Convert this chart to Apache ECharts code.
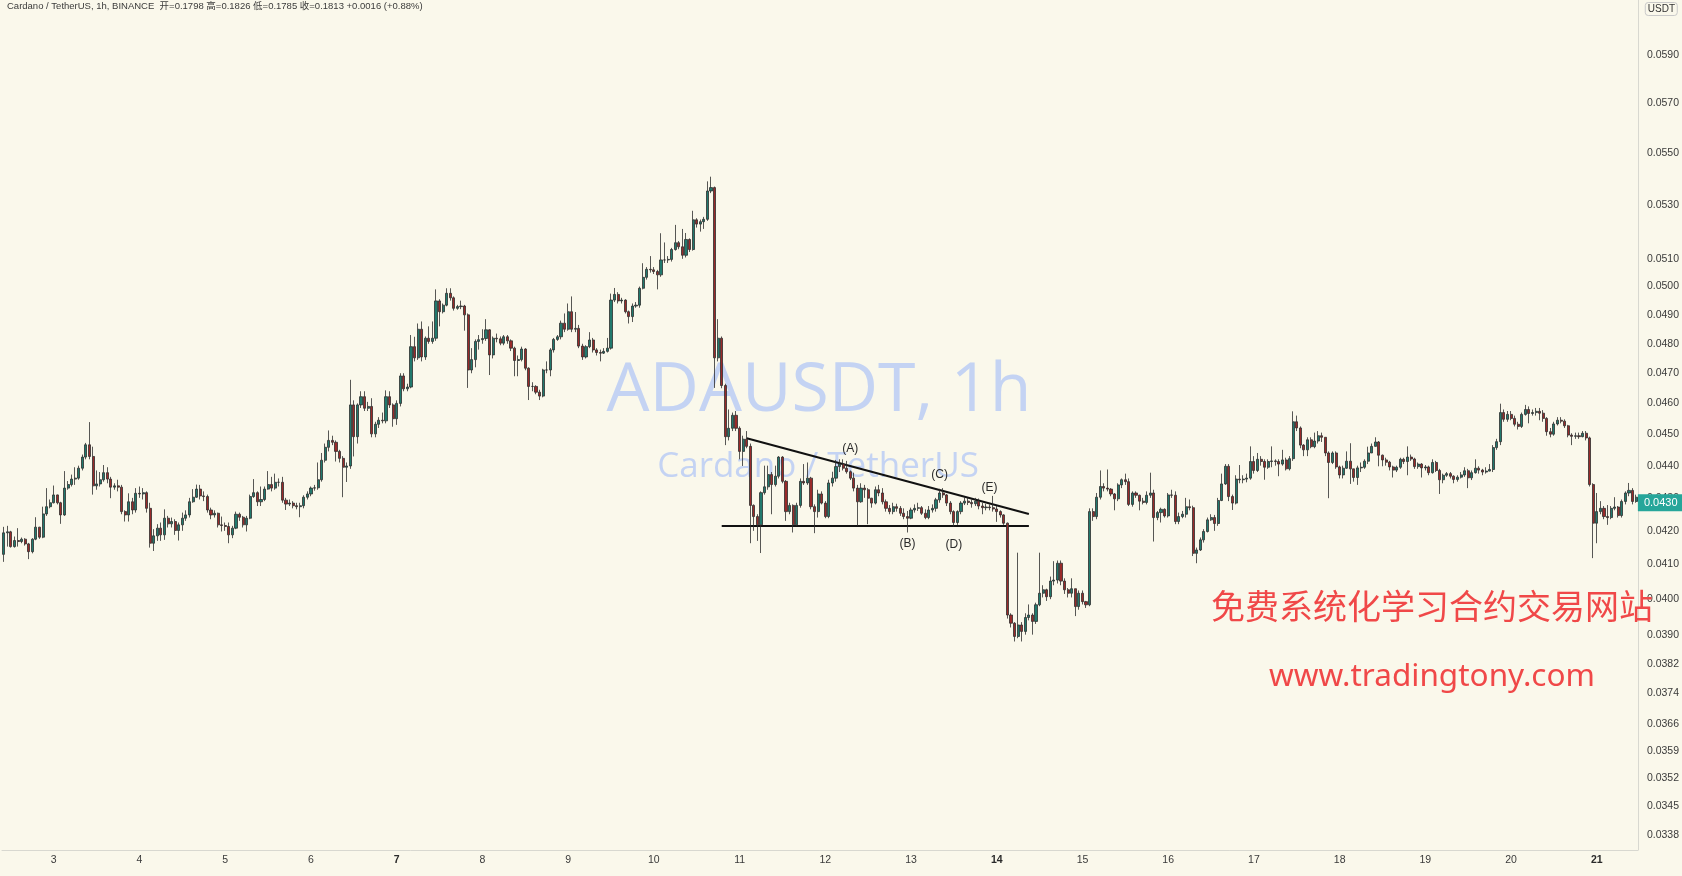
<!DOCTYPE html>
<html>
<head>
<meta charset="utf-8">
<script src="https://cdn.jsdelivr.net/npm/echarts@6.0.0/dist/echarts.min.js"></script>
<style>
html,body{margin:0;padding:0;background:#faf8eb;}
#chart{width:1682px;height:876px;}
</style>
</head>
<body>
<div id="chart"></div>
<script>
// ---- DATA (ADAUSDT 1h) ----
const startDay = 2, startHour = 10;           // first candle: day 2, 10:00
const firstOpen = 0.04130;
const closes = [
0.04194,0.04197,0.04153,0.04171,0.04168,0.04175,0.04161,0.04138,0.04175,0.04211,0.04181,0.04251,0.04273,0.04285,
0.04309,0.04285,0.04248,0.04330,0.04341,0.04358,0.04361,0.04392,0.04427,0.04466,0.04429,0.04337,0.04343,0.04356,0.04378,0.04358,0.04333,0.04337,0.04333,0.04258,0.04248,0.04288,0.04263,0.04314,
0.04312,0.04316,0.04268,0.04163,0.04185,0.04208,0.04188,0.04238,0.04221,0.04228,0.04201,0.04218,0.04238,0.04248,0.04288,0.04302,0.04327,0.04306,0.04304,0.04263,0.04248,0.04253,0.04218,0.04216,
0.04213,0.04188,0.04208,0.04250,0.04241,0.04218,0.04238,0.04304,0.04316,0.04288,0.04295,0.04327,0.04341,0.04330,0.04348,0.04348,0.04293,0.04281,0.04284,0.04276,0.04273,0.04276,0.04302,0.04312,
0.04330,0.04331,0.04356,0.04417,0.04458,0.04480,0.04474,0.04445,0.04423,0.04395,0.04399,0.04595,0.04492,0.04595,0.04622,0.04584,0.04590,0.04501,0.04532,0.04545,0.04543,0.04622,0.04595,0.04550,
0.04600,0.04691,0.04648,0.04654,0.04790,0.04752,0.04850,0.04755,0.04819,0.04808,0.04819,0.04949,0.04911,0.04934,0.04976,0.04960,0.04923,0.04929,0.04931,0.04900,0.04711,0.04746,0.04808,0.04814,
0.04818,0.04848,0.04762,0.04819,0.04817,0.04802,0.04824,0.04810,0.04785,0.04743,0.04746,0.04782,0.04717,0.04656,0.04656,0.04637,0.04624,0.04711,0.04711,0.04779,0.04815,0.04824,0.04871,0.04850,
0.04911,0.04850,0.04853,0.04792,0.04755,0.04790,0.04813,0.04779,0.04770,0.04768,0.04774,0.04785,0.04952,0.04972,0.04949,0.04952,0.04911,0.04894,0.04931,0.04934,0.04994,0.05033,0.05062,0.05060,
0.05054,0.05042,0.05096,0.05096,0.05098,0.05134,0.05159,0.05144,0.05113,0.05171,0.05134,0.05244,0.05228,0.05237,0.05246,0.05353,0.05366,0.04752,0.04819,0.04659,0.04492,0.04519,0.04561,0.04519,
0.04445,0.04484,0.04461,0.04277,0.04243,0.04218,0.04316,0.04334,0.04372,0.04341,0.04367,0.04427,0.04351,0.04258,0.04277,0.04218,0.04277,0.04351,0.04346,0.04361,0.04273,0.04258,0.04312,0.04284,
0.04243,0.04346,0.04361,0.04397,0.04405,0.04392,0.04381,0.04361,0.04330,0.04288,0.04330,0.04325,0.04299,0.04284,0.04325,0.04315,0.04288,0.04268,0.04258,0.04273,0.04268,0.04253,0.04243,0.04238,
0.04263,0.04268,0.04270,0.04253,0.04240,0.04263,0.04268,0.04294,0.04315,0.04309,0.04284,0.04258,0.04225,0.04258,0.04284,0.04290,0.04286,0.04282,0.04290,0.04275,0.04270,0.04272,0.04270,0.04266,
0.04258,0.04248,0.04223,0.03955,0.03932,0.03895,0.03927,0.03909,0.03948,0.03955,0.03937,0.03984,0.04017,0.04027,0.04007,0.04052,0.04055,0.04104,0.04052,0.04027,0.04017,0.04030,0.03979,0.04017,
0.03993,0.03984,0.04258,0.04243,0.04302,0.04335,0.04330,0.04327,0.04312,0.04297,0.04340,0.04356,0.04350,0.04280,0.04315,0.04308,0.04290,0.04286,0.04308,0.04315,0.04240,0.04255,0.04265,0.04245,
0.04309,0.04308,0.04228,0.04243,0.04250,0.04273,0.04270,0.04133,0.04143,0.04173,0.04198,0.04233,0.04240,0.04222,0.04292,0.04343,0.04398,0.04304,0.04284,0.04358,0.04356,0.04358,0.04361,0.04413,
0.04385,0.04420,0.04413,0.04395,0.04413,0.04415,0.04413,0.04405,0.04418,0.04390,0.04422,0.04540,0.04520,0.04465,0.04450,0.04482,0.04460,0.04478,0.04495,0.04490,0.04440,0.04410,0.04440,0.04396,
0.04371,0.04392,0.04414,0.04390,0.04363,0.04393,0.04395,0.04414,0.04440,0.04461,0.04475,0.04433,0.04418,0.04411,0.04396,0.04386,0.04395,0.04420,0.04413,0.04427,0.04421,0.04397,0.04405,0.04393,
0.04396,0.04378,0.04410,0.04385,0.04356,0.04370,0.04375,0.04367,0.04357,0.04364,0.04371,0.04384,0.04362,0.04378,0.04392,0.04386,0.04380,0.04383,0.04388,0.04457,0.04476,0.04570,0.04548,0.04564,
0.04551,0.04532,0.04525,0.04564,0.04580,0.04567,0.04570,0.04574,0.04568,0.04551,0.04508,0.04500,0.04533,0.04545,0.04542,0.04527,0.04497,0.04493,0.04495,0.04492,0.04503,0.04488,0.04341,0.04223,
0.04258,0.04268,0.04243,0.04240,0.04268,0.04272,0.04246,0.04289,0.04315,0.04323,0.04289,0.04302
];
const highs = [
0.04212,0.04215,0.04200,0.04183,0.04208,0.04180,0.04178,0.04164,0.04178,0.04241,0.04212,0.04273,0.04330,0.04295,
0.04338,0.04310,0.04288,0.04383,0.04352,0.04372,0.04395,0.04400,0.04435,0.04472,0.04539,0.04460,0.04385,0.04380,0.04402,0.04395,0.04365,0.04345,0.04356,0.04340,0.04262,0.04314,0.04300,0.04330,
0.04335,0.04330,0.04320,0.04285,0.04205,0.04220,0.04225,0.04265,0.04245,0.04240,0.04235,0.04225,0.04255,0.04262,0.04300,0.04327,0.04341,0.04340,0.04320,0.04310,0.04270,0.04262,0.04255,0.04243,
0.04225,0.04225,0.04215,0.04258,0.04255,0.04245,0.04245,0.04310,0.04358,0.04320,0.04335,0.04335,0.04383,0.04365,0.04375,0.04360,0.04365,0.04300,0.04295,0.04290,0.04285,0.04285,0.04308,0.04320,
0.04335,0.04340,0.04410,0.04440,0.04470,0.04512,0.04495,0.04480,0.04450,0.04430,0.04410,0.04678,0.04610,0.04600,0.04640,0.04640,0.04605,0.04617,0.04540,0.04555,0.04570,0.04643,0.04640,0.04600,
0.04610,0.04700,0.04700,0.04665,0.04830,0.04824,0.04870,0.04877,0.04825,0.04860,0.04877,0.04990,0.04955,0.04940,0.04994,0.04994,0.04965,0.04935,0.04950,0.04935,0.04905,0.04785,0.04815,0.04830,
0.04850,0.04885,0.04850,0.04825,0.04835,0.04825,0.04830,0.04830,0.04815,0.04790,0.04760,0.04790,0.04785,0.04720,0.04670,0.04660,0.04645,0.04715,0.04740,0.04785,0.04820,0.04830,0.04880,0.04905,
0.04940,0.04965,0.04910,0.04865,0.04800,0.04795,0.04840,0.04820,0.04785,0.04780,0.04785,0.04820,0.04975,0.04995,0.04980,0.04960,0.04955,0.04915,0.04940,0.04945,0.05000,0.05084,0.05070,0.05110,
0.05070,0.05060,0.05194,0.05160,0.05110,0.05140,0.05225,0.05165,0.05210,0.05195,0.05175,0.05278,0.05250,0.05245,0.05255,0.05390,0.05408,0.05370,0.04885,0.04825,0.04665,0.04580,0.04570,0.04575,
0.04525,0.04495,0.04510,0.04470,0.04280,0.04250,0.04320,0.04400,0.04400,0.04380,0.04400,0.04430,0.04430,0.04355,0.04285,0.04280,0.04285,0.04360,0.04405,0.04410,0.04365,0.04280,0.04325,0.04320,
0.04290,0.04356,0.04381,0.04418,0.04420,0.04420,0.04415,0.04385,0.04378,0.04340,0.04345,0.04340,0.04330,0.04300,0.04335,0.04340,0.04330,0.04295,0.04278,0.04285,0.04282,0.04275,0.04268,0.04260,
0.04270,0.04280,0.04285,0.04275,0.04265,0.04275,0.04280,0.04300,0.04328,0.04330,0.04312,0.04290,0.04262,0.04262,0.04290,0.04303,0.04300,0.04295,0.04300,0.04298,0.04285,0.04282,0.04280,0.04306,
0.04275,0.04262,0.04250,0.04225,0.03960,0.03935,0.04135,0.03935,0.03960,0.03985,0.03960,0.03990,0.04135,0.04040,0.04030,0.04065,0.04110,0.04112,0.04112,0.04060,0.04032,0.04060,0.04030,0.04025,
0.04025,0.03995,0.04268,0.04268,0.04315,0.04385,0.04345,0.04388,0.04330,0.04315,0.04345,0.04360,0.04375,0.04360,0.04320,0.04320,0.04310,0.04300,0.04320,0.04378,0.04325,0.04260,0.04270,0.04268,
0.04315,0.04325,0.04320,0.04255,0.04260,0.04300,0.04295,0.04276,0.04150,0.04180,0.04205,0.04240,0.04250,0.04248,0.04300,0.04375,0.04405,0.04405,0.04310,0.04370,0.04402,0.04370,0.04375,0.04461,
0.04430,0.04440,0.04430,0.04420,0.04420,0.04461,0.04420,0.04420,0.04450,0.04425,0.04430,0.04574,0.04560,0.04525,0.04468,0.04490,0.04490,0.04505,0.04510,0.04505,0.04490,0.04445,0.04445,0.04445,
0.04400,0.04400,0.04445,0.04471,0.04390,0.04400,0.04410,0.04420,0.04460,0.04470,0.04490,0.04478,0.04435,0.04425,0.04415,0.04400,0.04400,0.04425,0.04425,0.04461,0.04435,0.04425,0.04410,0.04408,
0.04402,0.04400,0.04420,0.04415,0.04390,0.04375,0.04380,0.04380,0.04370,0.04370,0.04380,0.04395,0.04390,0.04385,0.04420,0.04398,0.04390,0.04395,0.04405,0.04465,0.04485,0.04599,0.04580,0.04575,
0.04575,0.04560,0.04540,0.04570,0.04595,0.04590,0.04580,0.04585,0.04585,0.04578,0.04555,0.04520,0.04540,0.04555,0.04555,0.04548,0.04530,0.04503,0.04505,0.04505,0.04510,0.04510,0.04492,0.04345,
0.04315,0.04290,0.04275,0.04278,0.04275,0.04302,0.04275,0.04295,0.04320,0.04346,0.04330,0.04310
];
const lows = [
0.04108,0.04153,0.04150,0.04150,0.04153,0.04163,0.04156,0.04116,0.04133,0.04172,0.04176,0.04178,0.04245,0.04268,
0.04283,0.04280,0.04221,0.04245,0.04325,0.04335,0.04340,0.04356,0.04385,0.04420,0.04420,0.04310,0.04325,0.04335,0.04350,0.04345,0.04299,0.04325,0.04320,0.04250,0.04228,0.04228,0.04250,0.04255,
0.04300,0.04295,0.04255,0.04150,0.04140,0.04170,0.04170,0.04173,0.04210,0.04210,0.04188,0.04171,0.04200,0.04230,0.04240,0.04285,0.04300,0.04295,0.04290,0.04255,0.04235,0.04240,0.04210,0.04198,
0.04200,0.04163,0.04178,0.04205,0.04230,0.04210,0.04198,0.04235,0.04300,0.04275,0.04275,0.04290,0.04325,0.04320,0.04325,0.04335,0.04285,0.04263,0.04275,0.04268,0.04265,0.04241,0.04268,0.04295,
0.04305,0.04322,0.04325,0.04350,0.04410,0.04445,0.04465,0.04413,0.04410,0.04302,0.04349,0.04390,0.04429,0.04470,0.04585,0.04575,0.04575,0.04490,0.04490,0.04520,0.04535,0.04535,0.04585,0.04524,
0.04530,0.04590,0.04640,0.04640,0.04650,0.04740,0.04745,0.04740,0.04745,0.04800,0.04800,0.04810,0.04860,0.04905,0.04930,0.04950,0.04915,0.04918,0.04920,0.04845,0.04651,0.04700,0.04720,0.04780,
0.04800,0.04810,0.04694,0.04750,0.04805,0.04795,0.04795,0.04800,0.04775,0.04690,0.04690,0.04740,0.04710,0.04611,0.04640,0.04630,0.04611,0.04620,0.04700,0.04690,0.04770,0.04810,0.04815,0.04840,
0.04845,0.04840,0.04840,0.04785,0.04745,0.04750,0.04785,0.04770,0.04760,0.04740,0.04765,0.04770,0.04780,0.04945,0.04940,0.04940,0.04905,0.04870,0.04875,0.04925,0.04925,0.04990,0.05025,0.05050,
0.05045,0.04990,0.05035,0.05085,0.05085,0.05090,0.05130,0.05135,0.05100,0.05105,0.05125,0.05130,0.05215,0.05200,0.05210,0.05240,0.05345,0.04651,0.04740,0.04650,0.04465,0.04480,0.04510,0.04510,
0.04420,0.04399,0.04455,0.04163,0.04200,0.04170,0.04134,0.04310,0.04325,0.04250,0.04335,0.04360,0.04345,0.04230,0.04250,0.04195,0.04215,0.04270,0.04340,0.04340,0.04265,0.04193,0.04240,0.04280,
0.04238,0.04238,0.04335,0.04350,0.04380,0.04385,0.04375,0.04355,0.04320,0.04215,0.04285,0.04300,0.04220,0.04270,0.04280,0.04305,0.04280,0.04258,0.04250,0.04250,0.04258,0.04245,0.04235,0.04195,
0.04235,0.04255,0.04260,0.04248,0.04235,0.04235,0.04255,0.04258,0.04285,0.04300,0.04275,0.04250,0.04213,0.04218,0.04250,0.04278,0.04278,0.04270,0.04275,0.04265,0.04250,0.04262,0.04262,0.04258,
0.04227,0.04240,0.04218,0.03945,0.03920,0.03881,0.03890,0.03881,0.03900,0.03940,0.03900,0.03930,0.03980,0.04005,0.03995,0.04000,0.04040,0.04045,0.04040,0.04015,0.04005,0.04005,0.03952,0.03970,
0.03985,0.03975,0.03980,0.04230,0.04235,0.04295,0.04320,0.04320,0.04305,0.04262,0.04290,0.04330,0.04340,0.04275,0.04273,0.04300,0.04262,0.04280,0.04280,0.04300,0.04168,0.04232,0.04225,0.04240,
0.04240,0.04300,0.04220,0.04220,0.04238,0.04240,0.04262,0.04125,0.04104,0.04140,0.04165,0.04195,0.04230,0.04200,0.04215,0.04290,0.04340,0.04290,0.04263,0.04280,0.04345,0.04345,0.04348,0.04356,
0.04375,0.04380,0.04400,0.04356,0.04390,0.04395,0.04400,0.04367,0.04400,0.04385,0.04385,0.04415,0.04510,0.04455,0.04430,0.04430,0.04455,0.04455,0.04470,0.04475,0.04430,0.04299,0.04405,0.04390,
0.04360,0.04360,0.04390,0.04343,0.04350,0.04340,0.04380,0.04390,0.04405,0.04440,0.04460,0.04398,0.04398,0.04400,0.04385,0.04363,0.04380,0.04390,0.04405,0.04370,0.04415,0.04390,0.04390,0.04363,
0.04385,0.04370,0.04375,0.04380,0.04312,0.04345,0.04365,0.04360,0.04345,0.04350,0.04360,0.04365,0.04330,0.04355,0.04375,0.04375,0.04370,0.04375,0.04382,0.04380,0.04450,0.04465,0.04540,0.04540,
0.04545,0.04525,0.04515,0.04520,0.04560,0.04535,0.04560,0.04560,0.04545,0.04540,0.04495,0.04490,0.04495,0.04528,0.04535,0.04520,0.04490,0.04465,0.04485,0.04485,0.04490,0.04480,0.04335,0.04119,
0.04163,0.04250,0.04235,0.04218,0.04235,0.04262,0.04240,0.04240,0.04280,0.04305,0.04280,0.04285
];
// axis tick labels
const dayTicks = ['3','4','5','6','7','8','9','10','11','12','13','14','15','16','17','18','19','20','21'];
const boldDays = ['7','14','21'];
const priceTicks = ['0.0590','0.0570','0.0550','0.0530','0.0510','0.0500','0.0490','0.0480','0.0470','0.0460','0.0450','0.0440','0.0430','0.0420','0.0410','0.0400','0.0390','0.0382','0.0374','0.0366','0.0359','0.0352','0.0345','0.0338'];
// drawings: [candle index, price]
const upperLine = [[208, 0.04487], [287, 0.04251]];
const lowerLine = [[201, 0.04215], [287, 0.04215]];
const waveLabels = [['(A)', 237, 0.04453], ['(B)', 253, 0.04163], ['(C)', 262, 0.04371], ['(D)', 266, 0.04158], ['(E)', 276, 0.04330]];
const lastPriceText = '0.0430';

// ---- BUILD ----
if (closes.length !== highs.length || closes.length !== lows.length) throw new Error('len ' + closes.length + ' ' + highs.length + ' ' + lows.length);
const n = closes.length;
const categories = [];
for (let i = 0; i < n; i++) {
  const t = startHour + i;
  const d = startDay + Math.floor(t / 24);
  const hh = t % 24;
  categories.push(d + ' ' + String(hh).padStart(2, '0') + ':00');
}
const L = Math.log;
const candles = closes.map((c, i) => {
  const o = i === 0 ? firstOpen : closes[i - 1];
  const hi = Math.max(highs[i], o, c), lo = Math.min(lows[i], o, c);
  return [L(o), L(c), L(lo), L(hi)];
});

const chart = echarts.init(document.getElementById('chart'), null, {renderer: 'canvas'});
const baseFont = '"Liberation Sans", "Noto Sans CJK SC", sans-serif';
chart.setOption({
  animation: false,
  backgroundColor: '#faf8eb',
  textStyle: {fontFamily: baseFont},
  title: [
    {text: 'Cardano / TetherUS, 1h, BINANCE  开=0.1798 高=0.1826 低=0.1785 收=0.1813 +0.0016 (+0.88%)',
     left: 7, top: 2, padding: 0,
     textStyle: {fontSize: 9.5, color: '#3b3b3b', fontWeight: 'normal', fontFamily: baseFont}},
    {text: 'USDT', right: 4, top: 2, padding: [2, 3], borderColor: '#c9c9c9', borderWidth: 1, borderRadius: 3,
     textStyle: {fontSize: 10, color: '#333', fontWeight: 'normal', fontFamily: baseFont}}
  ],
  graphic: [
    {type: 'text', x: 819, y: 392, z: 0, silent: true,
     style: {text: 'ADAUSDT, 1h', fontSize: 68, fontFamily: '"Open Sans", sans-serif', fill: '#c4d3f3', align: 'center', verticalAlign: 'middle'}},
    {type: 'text', x: 818, y: 467, z: 0, silent: true,
     style: {text: 'Cardano / TetherUS', fontSize: 35, fontFamily: '"Open Sans", sans-serif', fill: '#c4d3f3', align: 'center', verticalAlign: 'middle'}},
    {type: 'text', x: 1432, y: 606, z: 100, silent: true,
     style: {text: '免费系统化学习合约交易网站', fontSize: 34, fontFamily: '"Noto Sans CJK SC", sans-serif', fill: '#f04848', align: 'center', verticalAlign: 'middle'}},
    {type: 'text', x: 1432, y: 677, z: 100, silent: true,
     style: {text: 'www.tradingtony.com', fontSize: 31.5, fontFamily: '"Noto Sans", sans-serif', fill: '#f04848', align: 'center', verticalAlign: 'middle'}}
  ],
  grid: {left: 2, right: 44, top: 0, bottom: 26, containLabel: false},
  xAxis: {
    type: 'category',
    data: categories,
    boundaryGap: true,
    axisLine: {show: true, lineStyle: {color: '#d8d8d0', width: 1}},
    axisTick: {show: false},
    splitLine: {show: false},
    axisLabel: {
      interval: (i, v) => v.endsWith(' 00:00') && dayTicks.includes(v.split(' ')[0]),
      formatter: (v) => { const d = v.split(' ')[0]; return boldDays.includes(d) ? '{b|' + d + '}' : d; },
      color: '#3a3a3a', fontSize: 10.5, margin: 5,
      rich: {b: {fontWeight: 'bold', fontSize: 10.5, color: '#2a2a2a'}}
    }
  },
  yAxis: {
    type: 'value',
    position: 'right',
    min: Math.log(0.033443),
    max: Math.log(0.061349),
    axisLine: {show: true, lineStyle: {color: '#d8d8d0', width: 1}},
    axisTick: {show: false},
    splitLine: {show: false},
    axisLabel: {
      customValues: priceTicks.map(t => Math.log(parseFloat(t))),
      formatter: (v) => Math.exp(v).toFixed(4),
      color: '#3a3a3a', fontSize: 10.5, margin: 9
    }
  },
  series: [{
    type: 'candlestick',
    data: candles,
    barWidth: 2.6,
    clip: false,
    itemStyle: {color: '#21796d', color0: '#992a2a', borderColor: '#2d2d2d', borderColor0: '#2d2d2d', borderWidth: 0.8},
    z: 5,
    markLine: {
      silent: true, symbol: ['none', 'none'], animation: false,
      data: [
        [{coord: [upperLine[0][0], L(upperLine[0][1])], lineStyle: {color: '#111', width: 2, type: 'solid'}, label: {show: false}},
         {coord: [upperLine[1][0], L(upperLine[1][1])]}],
        [{coord: [lowerLine[0][0], L(lowerLine[0][1])], lineStyle: {color: '#111', width: 2, type: 'solid'}, label: {show: false}},
         {coord: [lowerLine[1][0], L(lowerLine[1][1])]}],
        {yAxis: L(closes[n - 1]), lineStyle: {color: 'rgba(0,0,0,0)', width: 0},
         label: {show: true, position: 'end', distance: 0, formatter: lastPriceText, color: '#ffffff', backgroundColor: '#26a69a',
                 padding: [3, 5, 3, 6], fontSize: 11, fontFamily: baseFont}}
      ]
    },
    markPoint: {
      silent: true, symbol: 'circle', symbolSize: 0, animation: false,
      data: waveLabels.map(w => ({coord: [w[1], L(w[2])], value: w[0],
        label: {show: true, position: 'inside', formatter: w[0], color: '#2a2a2a', fontSize: 12, fontFamily: baseFont}}))
    }
  }]
});
</script>
</body>
</html>
